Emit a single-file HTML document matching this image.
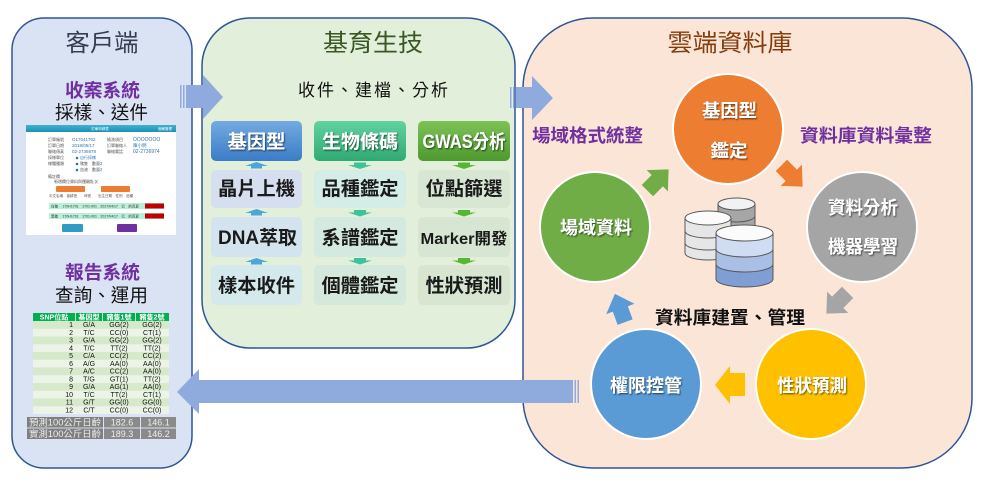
<!DOCTYPE html>
<html><head><meta charset="utf-8"><style>
html,body{margin:0;padding:0;background:#fff;}
svg{display:block;}
text{font-family:"Liberation Sans","Noto Sans CJK TC",sans-serif;}
</style></head><body>
<svg width="985" height="481" viewBox="0 0 985 481" xmlns="http://www.w3.org/2000/svg">
<defs>
<filter id="ts" x="-20%" y="-30%" width="140%" height="170%"><feDropShadow dx="1" dy="1.2" stdDeviation="0.7" flood-color="#000" flood-opacity="0.55"/></filter>
<linearGradient id="g1" x1="0" y1="0" x2="0" y2="1"><stop offset="0" stop-color="#74abe0"/><stop offset="1" stop-color="#3a7cc6"/></linearGradient>
<linearGradient id="g2" x1="0" y1="0" x2="0" y2="1"><stop offset="0" stop-color="#62d2a2"/><stop offset="1" stop-color="#2faa72"/></linearGradient>
<linearGradient id="g3" x1="0" y1="0" x2="0" y2="1"><stop offset="0" stop-color="#7ec257"/><stop offset="1" stop-color="#4d9a2e"/></linearGradient>
<linearGradient id="hb" x1="0" y1="0" x2="0" y2="1"><stop offset="0" stop-color="#3cb4d2"/><stop offset="1" stop-color="#1f8fb3"/></linearGradient>
</defs>

<!-- Panels -->
<rect x="12" y="18" width="180" height="450" rx="32" fill="#dae3f3" stroke="#2f5597" stroke-width="1.5"/>
<rect x="202" y="18" width="313" height="330" rx="48" fill="#e2efda" stroke="#2f5597" stroke-width="1.5"/>
<rect x="523" y="18" width="449" height="450" rx="70" fill="#fbe5d6" stroke="#2f5597" stroke-width="1.5"/>

<!-- Left panel -->
<text x="102" y="51" font-size="24" fill="#333f50" text-anchor="middle" textLength="73" lengthAdjust="spacingAndGlyphs">客戶端</text>
<text x="102.5" y="97" font-size="18.5" font-weight="bold" fill="#7030a0" text-anchor="middle" textLength="75" lengthAdjust="spacingAndGlyphs">收案系統</text>
<text x="101.5" y="119" font-size="18.5" fill="#111" text-anchor="middle" textLength="93" lengthAdjust="spacingAndGlyphs">採樣、送件</text>

<!-- form screenshot -->
<rect x="26" y="125" width="150" height="110" fill="#fff"/>
<rect x="26" y="125" width="150" height="7" fill="url(#hb)"/>
<text x="100" y="130" font-size="3.5" fill="#fff" text-anchor="middle">訂單申請表</text>
<text x="172" y="130" font-size="3.5" fill="#fff" text-anchor="end">個案管理</text>
<g font-size="4" fill="#555">
<text x="48" y="141">訂單編號</text>
<text x="48" y="147">訂單日期</text>
<text x="48" y="153">聯絡傳真</text>
<text x="48" y="159">採樣單位</text>
<text x="48" y="165">樣體種類</text>
<text x="48" y="178">備註欄</text>
<text x="54" y="183">新增欄位資料與運輸批次</text>
<text x="107" y="141">檢測項目</text>
<text x="107" y="147">訂單聯絡人</text>
<text x="107" y="153">聯絡電話</text>
<text x="80" y="159" fill="#2e75b6">自行採樣</text>
<text x="80" y="165">豬隻　數量</text>
<text x="80" y="171">血液　數量</text>
<text x="49" y="197" font-size="3.5">中文名稱　晉耕號　　耳號　　出生日期　性別　品種</text>
</g>
<g font-size="4.5" fill="#2e75b6">
<text x="72" y="141">O17041702</text>
<text x="72" y="147">2018/05/17</text>
<text x="72" y="153">02-2736978</text>
<text x="133" y="141" font-size="5">OOOOOOO</text>
<text x="133" y="147">陳小明</text>
<text x="133" y="153" font-size="5">02-2736974</text>
<text x="100" y="165">2</text>
<text x="100" y="171">2</text>
</g>
<circle cx="77" cy="158" r="1.3" fill="#2e75b6"/>
<circle cx="77" cy="164" r="1.3" fill="#2e75b6"/>
<circle cx="77" cy="170" r="1.3" fill="#2e75b6"/>
<rect x="56" y="186" width="29" height="6" rx="1" fill="#ed7d31"/>
<rect x="101" y="186" width="29" height="6" rx="1" fill="#ed7d31"/>
<rect x="49" y="203" width="115" height="6" fill="#b8efd9"/>
<rect x="145" y="203.5" width="19" height="5" fill="#c00000"/>
<rect x="49" y="213" width="115" height="6" fill="#b8efd9"/>
<rect x="145" y="213.5" width="19" height="5" fill="#c00000"/>
<g font-size="3.5" fill="#333">
<text x="51" y="207.5">白豬　 170H1701　1701-001　2017/04/17　公　約克夏</text>
<text x="51" y="217.5">黑豬　 170H1701　1701-001　2017/04/17　公　約克夏</text>
</g>
<rect x="62" y="224" width="21" height="8" rx="1" fill="#2e9cc4"/>
<rect x="117" y="224" width="20" height="8" rx="1" fill="#7030a0"/>

<text x="102.5" y="279" font-size="18.5" font-weight="bold" fill="#7030a0" text-anchor="middle" textLength="75" lengthAdjust="spacingAndGlyphs">報告系統</text>
<text x="101.5" y="302" font-size="18.5" fill="#111" text-anchor="middle" textLength="93" lengthAdjust="spacingAndGlyphs">查詢、運用</text>

<!-- SNP table -->
<rect x="33" y="313" width="136" height="8" fill="#00b050"/>
<g stroke="#fff" stroke-width="0.8"><line x1="75.5" y1="313" x2="75.5" y2="321"/><line x1="102.5" y1="313" x2="102.5" y2="321"/><line x1="135.5" y1="313" x2="135.5" y2="321"/></g>
<g font-size="7" font-weight="bold" fill="#fff" text-anchor="middle">
<text x="54" y="319.5">SNP位點</text><text x="89" y="319.5">基因型</text><text x="119" y="319.5">豬隻1號</text><text x="152" y="319.5">豬隻2號</text>
</g>
<g>
<rect x="33" y="321" width="136" height="7.75" fill="#d6e9cb"/>
<rect x="33" y="328.75" width="136" height="7.75" fill="#ebf4e6"/>
<rect x="33" y="336.5" width="136" height="7.75" fill="#d6e9cb"/>
<rect x="33" y="344.25" width="136" height="7.75" fill="#ebf4e6"/>
<rect x="33" y="352" width="136" height="7.75" fill="#d6e9cb"/>
<rect x="33" y="359.75" width="136" height="7.75" fill="#ebf4e6"/>
<rect x="33" y="367.5" width="136" height="7.75" fill="#d6e9cb"/>
<rect x="33" y="375.25" width="136" height="7.75" fill="#ebf4e6"/>
<rect x="33" y="383" width="136" height="7.75" fill="#d6e9cb"/>
<rect x="33" y="390.75" width="136" height="7.75" fill="#ebf4e6"/>
<rect x="33" y="398.5" width="136" height="7.75" fill="#d6e9cb"/>
<rect x="33" y="406.25" width="136" height="7.75" fill="#ebf4e6"/>
</g>
<g font-size="7" fill="#111">
<g text-anchor="end">
<text x="73" y="327">1</text><text x="73" y="334.75">2</text><text x="73" y="342.5">3</text><text x="73" y="350.25">4</text><text x="73" y="358">5</text><text x="73" y="365.75">6</text><text x="73" y="373.5">7</text><text x="73" y="381.25">8</text><text x="73" y="389">9</text><text x="73" y="396.75">10</text><text x="73" y="404.5">11</text><text x="73" y="412.25">12</text>
</g>
<g text-anchor="middle">
<text x="89" y="327">G/A</text><text x="89" y="334.75">T/C</text><text x="89" y="342.5">G/A</text><text x="89" y="350.25">T/C</text><text x="89" y="358">C/A</text><text x="89" y="365.75">A/G</text><text x="89" y="373.5">A/C</text><text x="89" y="381.25">T/G</text><text x="89" y="389">G/A</text><text x="89" y="396.75">T/C</text><text x="89" y="404.5">G/T</text><text x="89" y="412.25">C/T</text>
<text x="119" y="327">GG(2)</text><text x="119" y="334.75">CC(0)</text><text x="119" y="342.5">GG(2)</text><text x="119" y="350.25">TT(2)</text><text x="119" y="358">CC(2)</text><text x="119" y="365.75">AA(0)</text><text x="119" y="373.5">CC(2)</text><text x="119" y="381.25">GT(1)</text><text x="119" y="389">AG(1)</text><text x="119" y="396.75">TT(2)</text><text x="119" y="404.5">GG(0)</text><text x="119" y="412.25">CC(0)</text>
<text x="152" y="327">GG(2)</text><text x="152" y="334.75">CT(1)</text><text x="152" y="342.5">GG(2)</text><text x="152" y="350.25">TT(2)</text><text x="152" y="358">CC(2)</text><text x="152" y="365.75">AA(0)</text><text x="152" y="373.5">AA(0)</text><text x="152" y="381.25">TT(2)</text><text x="152" y="389">AA(0)</text><text x="152" y="396.75">CT(1)</text><text x="152" y="404.5">GG(0)</text><text x="152" y="412.25">CC(0)</text>
</g>
</g>
<rect x="27" y="417" width="76" height="10.5" fill="#7f7f7f"/>
<rect x="104" y="417" width="36" height="10.5" fill="#8a8a8a"/>
<rect x="141" y="417" width="35" height="10.5" fill="#8a8a8a"/>
<rect x="27" y="428.5" width="76" height="10.5" fill="#7f7f7f"/>
<rect x="104" y="428.5" width="36" height="10.5" fill="#8a8a8a"/>
<rect x="141" y="428.5" width="35" height="10.5" fill="#8a8a8a"/>
<g font-size="9" fill="#eee" text-anchor="middle">
<text x="65" y="425.5" textLength="72" lengthAdjust="spacingAndGlyphs">預測100公斤日齡</text>
<text x="122" y="425.5">182.6</text><text x="158.5" y="425.5">146.1</text>
<text x="65" y="437" textLength="72" lengthAdjust="spacingAndGlyphs">實測100公斤日齡</text>
<text x="122" y="437">189.3</text><text x="158.5" y="437">146.2</text>
</g>

<!-- Middle panel -->
<text x="373" y="51" font-size="24" fill="#385723" text-anchor="middle" textLength="100" lengthAdjust="spacingAndGlyphs">基育生技</text>
<text x="373" y="96" font-size="17" fill="#111" text-anchor="middle" textLength="150" lengthAdjust="spacing">收件、建檔、分析</text>

<rect x="211" y="121" width="91" height="40" rx="5" fill="url(#g1)"/>
<rect x="314" y="121" width="92" height="40" rx="5" fill="url(#g2)"/>
<rect x="418" y="121" width="92" height="40" rx="5" fill="url(#g3)"/>
<g font-size="19" font-weight="bold" fill="#fff" text-anchor="middle" filter="url(#ts)">
<text x="256.5" y="148" textLength="58" lengthAdjust="spacingAndGlyphs">基因型</text>
<text x="360" y="148" textLength="76" lengthAdjust="spacingAndGlyphs">生物條碼</text>
<text x="464" y="148" textLength="83" lengthAdjust="spacingAndGlyphs">GWAS分析</text>
</g>

<rect x="211" y="170" width="91" height="38" rx="5" fill="#d5dff0"/>
<rect x="211" y="217" width="91" height="40" rx="5" fill="#d4e4ef"/>
<rect x="211" y="265" width="91" height="40" rx="5" fill="#d4e9ec"/>
<rect x="314" y="170" width="92" height="38" rx="5" fill="#d4ede6"/>
<rect x="314" y="217" width="92" height="40" rx="5" fill="#d4eae0"/>
<rect x="314" y="265" width="92" height="40" rx="5" fill="#d5e8dc"/>
<rect x="418" y="170" width="92" height="38" rx="5" fill="#d7e7d3"/>
<rect x="418" y="217" width="92" height="40" rx="5" fill="#d7e6d2"/>
<rect x="418" y="265" width="92" height="40" rx="5" fill="#d7e5d1"/>

<g font-size="19" fill="#1a1a1a" text-anchor="middle" font-weight="bold">
<text x="256.5" y="195" textLength="77" lengthAdjust="spacingAndGlyphs">晶片上機</text>
<text x="257.5" y="244" textLength="79" lengthAdjust="spacingAndGlyphs">DNA萃取</text>
<text x="256.5" y="292" textLength="77" lengthAdjust="spacingAndGlyphs">樣本收件</text>
<text x="360" y="195" textLength="77" lengthAdjust="spacingAndGlyphs">品種鑑定</text>
<text x="360" y="244" textLength="77" lengthAdjust="spacingAndGlyphs">系譜鑑定</text>
<text x="360" y="292" textLength="77" lengthAdjust="spacingAndGlyphs">個體鑑定</text>
<text x="464" y="195" textLength="77" lengthAdjust="spacingAndGlyphs">位點篩選</text>
<text x="464" y="244" font-size="16" textLength="87" lengthAdjust="spacingAndGlyphs">Marker開發</text>
<text x="464" y="292" textLength="77" lengthAdjust="spacingAndGlyphs">性狀預測</text>
</g>

<!-- small arrows: col1 up -->
<g fill="#4ea5d9">
<polygon points="245,166 256.5,162 268,166 262,166 262,168.5 251,168.5 251,166"/>
<polygon points="245,213 256.5,209 268,213 262,213 262,215.5 251,215.5 251,213"/>
<polygon points="245,262 256.5,258 268,262 262,262 262,264.5 251,264.5 251,262"/>
</g>
<g fill="#3cc39a">
<polygon points="354,162.5 366,162.5 366,165 372,165 360,169 348,165 354,165"/>
<polygon points="354,210 366,210 366,212.5 372,212.5 360,216.5 348,212.5 354,212.5"/>
<polygon points="354,258 366,258 366,260.5 372,260.5 360,264.5 348,260.5 354,260.5"/>
</g>
<g fill="#58b437">
<polygon points="458,162.5 470,162.5 470,165 476,165 464,169 452,165 458,165"/>
<polygon points="458,210 470,210 470,212.5 476,212.5 464,216.5 452,212.5 458,212.5"/>
<polygon points="458,258 470,258 470,260.5 476,260.5 464,264.5 452,260.5 458,260.5"/>
</g>

<!-- Right panel -->
<text x="730" y="51" font-size="24" fill="#843c0c" text-anchor="middle" textLength="125" lengthAdjust="spacingAndGlyphs">雲端資料庫</text>
<text x="587.5" y="142" font-size="18" font-weight="bold" fill="#7030a0" text-anchor="middle" textLength="111" lengthAdjust="spacingAndGlyphs">場域格式統整</text>
<text x="866" y="142" font-size="18" font-weight="bold" fill="#7030a0" text-anchor="middle" textLength="132" lengthAdjust="spacingAndGlyphs">資料庫資料彙整</text>

<circle cx="728" cy="129" r="55" fill="#ed7d31" stroke="#fff" stroke-width="2"/>
<circle cx="595" cy="227" r="55" fill="#70ad47" stroke="#fff" stroke-width="2"/>
<circle cx="862" cy="227" r="55" fill="#a5a5a5" stroke="#fff" stroke-width="2"/>
<circle cx="646" cy="384" r="55" fill="#5b9bd5" stroke="#fff" stroke-width="2"/>
<circle cx="811" cy="384" r="55" fill="#ffc000" stroke="#fff" stroke-width="2"/>

<g font-size="18" font-weight="bold" fill="#fff" text-anchor="middle" filter="url(#ts)">
<text x="729.5" y="117" textLength="55" lengthAdjust="spacingAndGlyphs">基因型</text>
<text x="729" y="157" textLength="37" lengthAdjust="spacingAndGlyphs">鑑定</text>
<text x="596" y="234" textLength="72" lengthAdjust="spacingAndGlyphs">場域資料</text>
<text x="863" y="214" textLength="70" lengthAdjust="spacingAndGlyphs">資料分析</text>
<text x="863" y="253" textLength="70" lengthAdjust="spacingAndGlyphs">機器學習</text>
<text x="646" y="392" textLength="72" lengthAdjust="spacingAndGlyphs">權限控管</text>
<text x="812" y="392" textLength="70" lengthAdjust="spacingAndGlyphs">性狀預測</text>
</g>
<text x="730" y="324" font-size="18" font-weight="bold" fill="#111" text-anchor="middle" textLength="150" lengthAdjust="spacingAndGlyphs">資料庫建置、管理</text>

<!-- cycle arrows -->
<polygon transform="translate(658,180) rotate(-45)" points="-15,-8 -1,-8 -1,-15 15,0 -1,15 -1,8 -15,8" fill="#70ad47"/>
<polygon transform="translate(792,176) rotate(45)" points="-15,-8 -1,-8 -1,-15 15,0 -1,15 -1,8 -15,8" fill="#ed7d31"/>
<polygon transform="translate(837,303) rotate(135)" points="-15,-8 -1,-8 -1,-15 15,0 -1,15 -1,8 -15,8" fill="#a5a5a5"/>
<polygon transform="translate(620,308) rotate(-110)" points="-15,-8 -1,-8 -1,-15 15,0 -1,15 -1,8 -15,8" fill="#5b9bd5"/>
<polygon points="745,373 730,373 730,366 715,385 730,404 730,396 745,396" fill="#ffc000"/>

<!-- database icon -->
<g stroke="#595959" stroke-width="1">
<path d="M718,204 L718,228 A18.5,6 0 0 0 755,228 L755,204 Z" fill="#a6a6a6"/>
<path d="M718,216 A18.5,6 0 0 0 755,216" fill="none"/>
<ellipse cx="736.5" cy="204" rx="18.5" ry="6" fill="#f2f2f2"/>

<path d="M685,218 L685,253 A23,7 0 0 0 731,253 L731,218 Z" fill="#e7e6e6"/>
<path d="M685,231 A23,7 0 0 0 731,231" fill="none"/>
<path d="M685,243 A23,7 0 0 0 731,243" fill="none"/>
<ellipse cx="708" cy="218" rx="23" ry="7" fill="#fbfbfb"/>

<path d="M716,233 L716,279 A28.5,8 0 0 0 773,279 L773,233 Z" fill="#7f9fd4"/>
<path d="M716,233 L716,264 A28.5,8 0 0 0 773,264 L773,233 Z" fill="#a9bfe6"/>
<path d="M716,233 L716,249 A28.5,8 0 0 0 773,249 L773,233 Z" fill="#d0dcf1"/>
<ellipse cx="744.5" cy="233" rx="28.5" ry="8" fill="#fbfbfb"/>
</g>

<!-- big arrows between panels -->
<g fill="#8faadc">
<rect x="180" y="85" width="1.5" height="23"/>
<rect x="183" y="85" width="1.5" height="23"/>
<polygon points="186,85 203,85 203,75 223,97 203,119 203,108 186,108"/>
<rect x="510" y="87" width="1.5" height="21"/>
<rect x="513" y="87" width="1.5" height="21"/>
<polygon points="516,87 532,87 532,76 553,98 532,120 532,108 516,108"/>
<rect x="577.5" y="380" width="1.5" height="23"/>
<rect x="574.5" y="380" width="1.5" height="23"/>
<polygon points="573,380 199,380 199,369 177,392 199,414 199,403 573,403"/>
</g>
</svg>
</body></html>
